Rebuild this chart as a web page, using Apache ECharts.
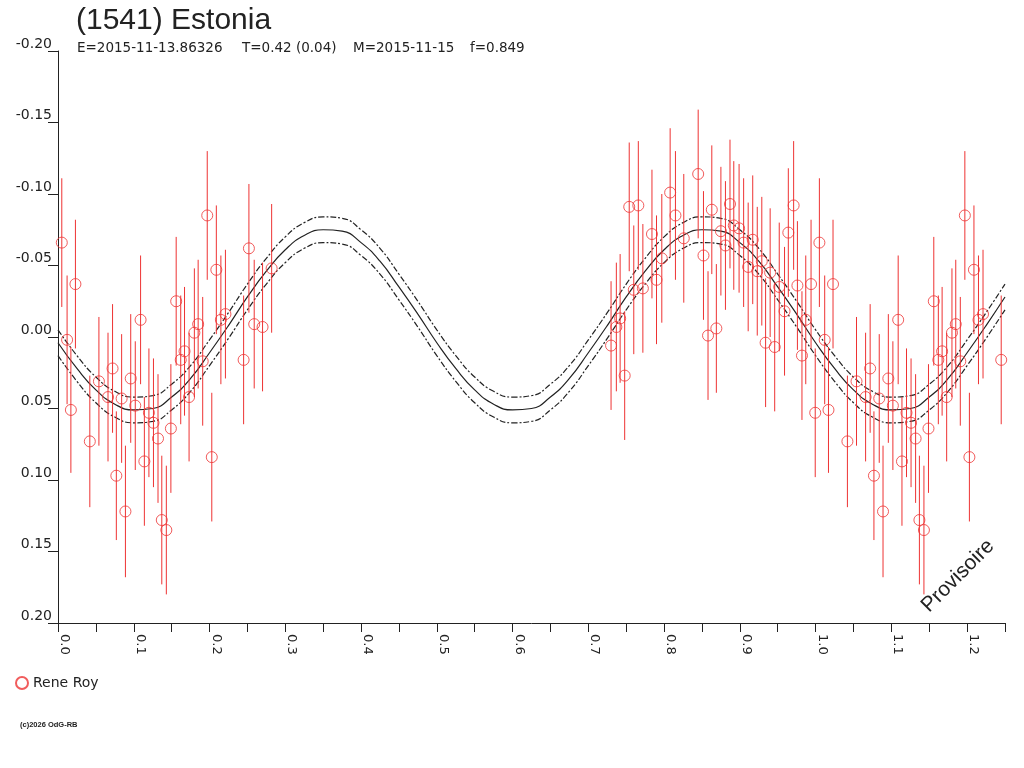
<!DOCTYPE html>
<html>
<head>
<meta charset="utf-8">
<script src="https://cdn.jsdelivr.net/npm/echarts@6/dist/echarts.min.js"></script>
<style>
  html, body { margin: 0; padding: 0; background: #fff; }
  #chart { width: 1024px; height: 768px; }
</style>
</head>
<body>
<div id="chart"></div>
<script>
// observations (phase, magnitude, error) - Rene Roy
var obsPhase = [
  0.005, 0.012, 0.017, 0.023, 0.042, 0.054, 0.066, 0.072, 0.077, 0.084,
  0.089, 0.096, 0.102, 0.109, 0.114, 0.120, 0.126, 0.132, 0.137, 0.143,
  0.149, 0.156, 0.162, 0.167, 0.173, 0.180, 0.185, 0.191, 0.197, 0.203,
  0.209, 0.215, 0.221, 0.245, 0.252, 0.259, 0.270, 0.282,
  0.730, 0.737, 0.742, 0.748, 0.754, 0.760, 0.766, 0.772, 0.784, 0.790,
  0.797, 0.808, 0.815, 0.826, 0.845, 0.852, 0.858, 0.863, 0.869, 0.875,
  0.881, 0.887, 0.892, 0.899, 0.905, 0.911, 0.917, 0.923, 0.929, 0.934,
  0.940, 0.946, 0.952, 0.959, 0.964, 0.971, 0.976, 0.982, 0.987, 0.994, 0.9995
]
var obsMag = [
  -0.066, 0.002, 0.051, -0.037, 0.073, 0.031, 0.042, 0.022, 0.097, 0.043,
  0.122, 0.029, 0.048, -0.012, 0.087, 0.053, 0.060, 0.071, 0.128, 0.135,
  0.064, -0.025, 0.016, 0.010, 0.042, -0.003, -0.009, 0.017, -0.085, 0.084,
  -0.047, -0.012, -0.016, 0.016, -0.062, -0.009, -0.007, -0.048,
  0.006, -0.007, -0.013, 0.027, -0.091, -0.033, -0.092, -0.034, -0.072, -0.040,
  -0.055, -0.101, -0.085, -0.069, -0.114, -0.057, -0.001, -0.089, -0.006, -0.074,
  -0.064, -0.093, -0.078, -0.076, -0.066, -0.049, -0.068, -0.046, -0.053, 0.004,
  -0.045, 0.007, -0.035, -0.018, -0.073, -0.092, -0.036, 0.013, -0.012, -0.037, 0.053
]
var obsErr = [
  0.045, 0.045, 0.044, 0.045, 0.046, 0.045, 0.045, 0.045, 0.045, 0.045,
  0.046, 0.045, 0.045, 0.045, 0.045, 0.045, 0.045, 0.045, 0.045, 0.045,
  0.045, 0.045, 0.045, 0.045, 0.045, 0.045, 0.045, 0.045, 0.045, 0.045,
  0.045, 0.045, 0.045, 0.045, 0.045, 0.045, 0.045, 0.045,
  0.045, 0.045, 0.045, 0.045, 0.045, 0.045, 0.045, 0.045, 0.045, 0.045,
  0.045, 0.045, 0.045, 0.045, 0.045, 0.045, 0.045, 0.045, 0.045, 0.045,
  0.045, 0.045, 0.045, 0.045, 0.045, 0.045, 0.045, 0.045, 0.045, 0.045,
  0.045, 0.045, 0.045, 0.045, 0.045, 0.045, 0.045, 0.045, 0.045, 0.045, 0.045
]

// fitted curve, sampled every 0.025 in phase (0 .. 1.25)
var fitMid = [
  0.004, 0.022, 0.037, 0.047, 0.051, 0.050, 0.042, 0.029, 0.011, -0.008,
  -0.028, -0.046, -0.061, -0.071, -0.075, -0.074, -0.066, -0.053, -0.035, -0.016,
  0.004, 0.022, 0.037, 0.047, 0.051, 0.050, 0.042, 0.029, 0.011, -0.008,
  -0.028, -0.046, -0.061, -0.071, -0.075, -0.074, -0.066, -0.053, -0.035, -0.016,
  0.004, 0.022, 0.037, 0.047, 0.051, 0.050, 0.042, 0.029, 0.011, -0.008, -0.028
]
var fitHigh = [
  -0.005, 0.013, 0.028, 0.038, 0.042, 0.041, 0.033, 0.020, 0.002, -0.017,
  -0.037, -0.055, -0.070, -0.080, -0.084, -0.083, -0.075, -0.062, -0.044, -0.025,
  -0.005, 0.013, 0.028, 0.038, 0.042, 0.041, 0.033, 0.020, 0.002, -0.017,
  -0.037, -0.055, -0.070, -0.080, -0.084, -0.083, -0.075, -0.062, -0.044, -0.025,
  -0.005, 0.013, 0.028, 0.038, 0.042, 0.041, 0.033, 0.020, 0.002, -0.017, -0.037
]
var fitLow = [
  0.013, 0.031, 0.046, 0.056, 0.060, 0.059, 0.051, 0.038, 0.020, 0.001,
  -0.019, -0.037, -0.052, -0.062, -0.066, -0.065, -0.057, -0.044, -0.026, -0.007,
  0.013, 0.031, 0.046, 0.056, 0.060, 0.059, 0.051, 0.038, 0.020, 0.001,
  -0.019, -0.037, -0.052, -0.062, -0.066, -0.065, -0.057, -0.044, -0.026, -0.007,
  0.013, 0.031, 0.046, 0.056, 0.060, 0.059, 0.051, 0.038, 0.020, 0.001, -0.019
]
var fitStep = 0.025

var titleText = '(1541) Estonia'
var infoTexts = ['E=2015-11-13.86326', 'T=0.42 (0.04)', 'M=2015-11-15', 'f=0.849']
var observer = 'Rene Roy'

var FONT = '"Liberation Sans", Arial, sans-serif'
var SMALL = '"DejaVu Sans", Verdana, sans-serif'
var RED = '#ee3333'
var INK = '#222'

function buildPoints() {
  var pts = []
  for (var i = 0; i < obsPhase.length; i++) {
    pts.push([obsPhase[i], obsMag[i], obsErr[i]])
    // phase plot is repeated past 1.0
    if (obsPhase[i] + 1 <= 1.25) {
      pts.push([obsPhase[i] + 1, obsMag[i], obsErr[i]])
    }
  }
  return pts
}

function buildCurve(arr) {
  var out = []
  for (var i = 0; i < arr.length; i++) {
    out.push([i * fitStep, arr[i]])
  }
  return out
}

function chart() {
  var points = buildPoints()
  var myChart = echarts.init(document.getElementById('chart'))
  var dashStyle = { color: INK, width: 1.2, type: [6, 2, 2, 2] }
  var option = {
    backgroundColor: '#fff',
    animation: false,
    textStyle: { fontFamily: FONT },
    grid: { left: 58, right: 19, top: 51, bottom: 145, containLabel: false },
    legend: {
      data: [observer],
      left: 10,
      top: 671,
      itemWidth: 12,
      itemHeight: 12,
      itemGap: 4,
      textStyle: { fontSize: 14, color: INK, fontFamily: SMALL }
    },
    xAxis: {
      type: 'value',
      min: 0,
      max: 1.25,
      interval: 0.05,
      axisLine: { onZero: false, lineStyle: { color: INK, width: 1 } },
      axisTick: { length: 9, lineStyle: { color: INK } },
      splitLine: { show: false },
      axisLabel: {
        rotate: -90,
        margin: 11,
        verticalAlign: 'bottom',
        color: INK,
        fontSize: 13,
        fontFamily: SMALL,
        showMaxLabel: true,
        formatter: function (v) {
          var k = Math.round(v * 20)
          if (k % 2 !== 0) return ''
          return (k / 20).toFixed(1)
        }
      }
    },
    yAxis: {
      type: 'value',
      inverse: true,
      min: -0.2,
      max: 0.2,
      interval: 0.05,
      axisLine: { show: true, lineStyle: { color: INK, width: 1 } },
      axisTick: { length: 10, lineStyle: { color: INK } },
      splitLine: { show: false },
      axisLabel: {
        margin: 6,
        verticalAlign: 'bottom',
        color: INK,
        fontSize: 14,
        fontFamily: SMALL,
        formatter: function (v) { return v.toFixed(2) }
      }
    },
    series: [
      {
        name: 'fit',
        type: 'line',
        data: buildCurve(fitMid),
        smooth: true,
        showSymbol: false,
        z: 2,
        lineStyle: { color: INK, width: 1.2 }
      },
      {
        name: 'fit+',
        type: 'line',
        data: buildCurve(fitHigh),
        smooth: true,
        showSymbol: false,
        z: 2,
        lineStyle: dashStyle
      },
      {
        name: 'fit-',
        type: 'line',
        data: buildCurve(fitLow),
        smooth: true,
        showSymbol: false,
        z: 2,
        lineStyle: dashStyle
      },
      {
        name: 'errors',
        type: 'custom',
        data: points,
        z: 3,
        encode: { x: 0, y: 1 },
        renderItem: function (params, api) {
          var x = api.value(0)
          var y = api.value(1)
          var e = api.value(2)
          var p1 = api.coord([x, y - e])
          var p2 = api.coord([x, y + e])
          return {
            type: 'line',
            shape: { x1: p1[0], y1: p1[1], x2: p2[0], y2: p2[1] },
            style: { stroke: RED, lineWidth: 1 }
          }
        }
      },
      {
        name: observer,
        type: 'scatter',
        data: points,
        symbol: 'circle',
        symbolSize: 11,
        z: 4,
        itemStyle: { color: 'rgba(255,255,255,0)', borderColor: RED, borderWidth: 1 }
      }
    ],
    graphic: [
      { type: 'text', left: 76, top: 6, style: { text: titleText, font: '30px ' + FONT, fill: INK } },
      { type: 'text', left: 77, top: 41, style: { text: infoTexts[0], font: '13.5px ' + SMALL, fill: INK } },
      { type: 'text', left: 242, top: 41, style: { text: infoTexts[1], font: '13.5px ' + SMALL, fill: INK } },
      { type: 'text', left: 353, top: 41, style: { text: infoTexts[2], font: '13.5px ' + SMALL, fill: INK } },
      { type: 'text', left: 470, top: 41, style: { text: infoTexts[3], font: '13.5px ' + SMALL, fill: INK } },
      {
        type: 'text', x: 958, y: 576, rotation: Math.PI / 4,
        style: { text: 'Provisoire', font: '21px ' + FONT, fill: INK, align: 'center', verticalAlign: 'middle' }
      },
      { type: 'text', left: 20, top: 721, style: { text: '(c)2026 OdG-RB', font: 'bold 7.5px ' + FONT, fill: INK } }
    ]
  }
  myChart.setOption(option)
}

chart()
</script>
</body>
</html>
